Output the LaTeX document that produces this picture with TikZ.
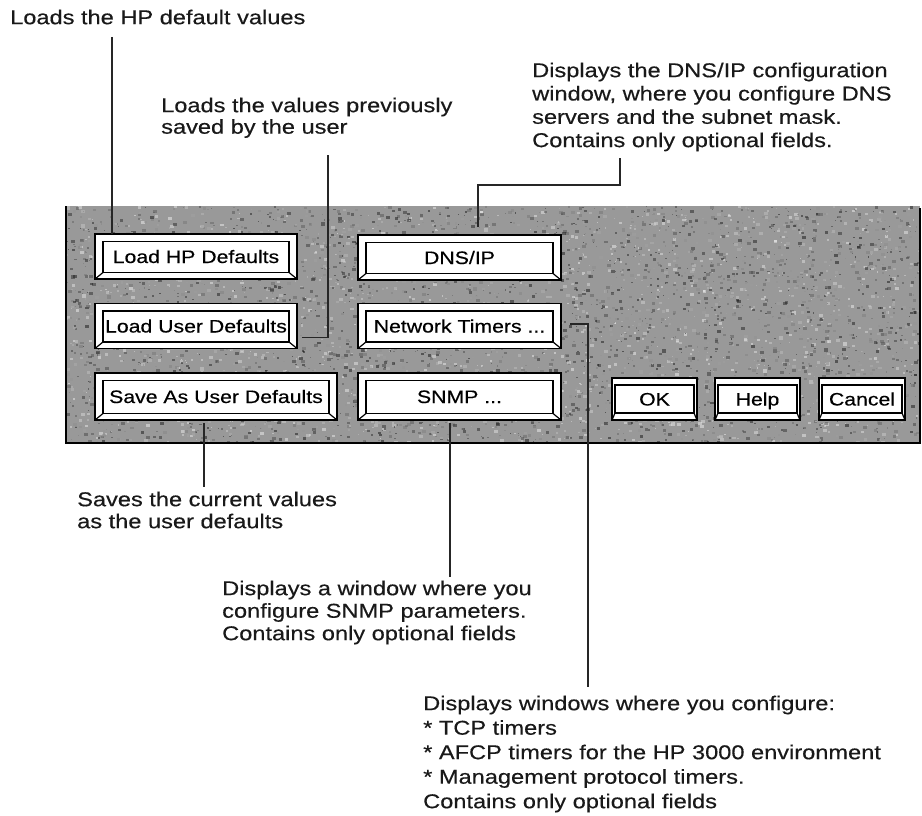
\documentclass[tikz,border=0pt]{standalone}
\usepackage{fontspec}
\setmainfont[FakeStretch=1.18, FakeBold=0.4]{Liberation Sans}
\usetikzlibrary{calc}

\definecolor{panelgray}{gray}{0.6}

% bevelled push button: inner face plus the two lower corner chamfers
\newcommand\bevelbtn[4]{%
  \draw[bevelline] ($(#1.north west)+(#2,#3)$) rectangle ($(#1.south east)+(-#2,-#4)$);
  \draw[bevelline] ($(#1.south west)+(#2,-#4)$) -- (#1.south west);
  \draw[bevelline] ($(#1.south east)+(-#2,-#4)$) -- (#1.south east);
}

\tikzset{
  btn/.style={draw=black, line width=1.8pt, fill=white, inner sep=0pt, outer sep=0pt,
    font=\fontsize{18}{20}\selectfont, text height=13pt, text depth=0pt},
  bevelline/.style={draw=black, line width=1.2pt},
  note/.style={anchor=north west, inner sep=0pt, align=left, text=black!90},
  lead/.style={draw=black!85, line width=1.1pt},
}

\begin{document}
\begin{tikzpicture}[x=1pt, y=-1pt]
\useasboundingbox (0,0) rectangle (922,816);

% ---- dialog panel with grainy grey surface ----
\begin{scope}
  \clip (66,206) rectangle (920,443);
  \fill[panelgray] (66,206) rectangle (920,443);
  \pgfmathsetseed{17}
  \foreach \i in {1,...,5200}{
    \pgfmathsetmacro\px{66+854*rnd}
    \pgfmathsetmacro\py{206+237*rnd}
    \pgfmathsetmacro\ps{1+3*rnd}
    \pgfmathtruncatemacro\pc{100*rnd}
    \fill[white!\pc!black, opacity=0.45] (\px,\py) rectangle ++(\ps,0.8*\ps);
  }
\end{scope}
\draw[line width=1.8pt] (66,206) -- (66,443) -- (920,443) -- (920,208);

% ---- buttons ----
\node[btn, minimum width=202, minimum height=45] (hp)   at (196,256.5) {Load HP Defaults};
\node[btn, minimum width=202, minimum height=45] (usr)  at (196,326)   {Load User Defaults};
\node[btn, minimum width=242, minimum height=47] (save) at (216,396.5) {Save As User Defaults};
\node[btn, minimum width=203, minimum height=45] (dns)  at (459.5,257.5) {DNS/IP};
\node[btn, minimum width=203, minimum height=45] (net)  at (459.5,326)   {Network Timers ...};
\node[btn, minimum width=203, minimum height=47] (snmp) at (459.5,396.5) {SNMP ...};
\node[btn, minimum width=85, minimum height=42] (ok)     at (654.5,399) {OK};
\node[btn, minimum width=85, minimum height=42] (help)   at (757.5,399) {Help};
\node[btn, minimum width=86, minimum height=42] (cancel) at (862,399)   {Cancel};

\bevelbtn{hp}{8}{7.5}{6.5}
\bevelbtn{usr}{8}{7.5}{6.5}
\bevelbtn{save}{8}{7.5}{6.5}
\bevelbtn{dns}{8}{7.5}{6.5}
\bevelbtn{net}{8}{7.5}{6.5}
\bevelbtn{snmp}{8}{7.5}{6.5}
\bevelbtn{ok}{3}{7}{7}
\bevelbtn{help}{3}{7}{7}
\bevelbtn{cancel}{3}{7}{7}

% ---- explanatory notes ----
\node[note, font=\fontsize{20}{23}\selectfont] (tHP) at (10,9.5) {Loads the HP default values};
\node[note, font=\fontsize{20}{21.5}\selectfont] (tUsr) at (161,97.5)
  {Loads the values previously\\saved by the user};
\node[note, font=\fontsize{20}{23.3}\selectfont] (tDns) at (532,62.5)
  {Displays the DNS/IP configuration\\window, where you configure DNS\\servers and the subnet mask.\\Contains only optional fields.};
\node[note, font=\fontsize{20}{22}\selectfont] (tSave) at (77,491.5)
  {Saves the current values\\as the user defaults};
\node[note, font=\fontsize{20}{22.5}\selectfont] (tSnmp) at (222,580.5)
  {Displays a window where you\\configure SNMP parameters.\\Contains only optional fields};
\node[note, font=\fontsize{20}{24.5}\selectfont] (tNet) at (423,695.5)
  {Displays windows where you configure:\\* TCP timers\\* AFCP timers for the HP 3000 environment\\* Management protocol timers.\\Contains only optional fields};

% ---- leader lines ----
\coordinate (eHP)   at (112,37);
\coordinate (eUsr)  at (328,155);
\coordinate (eDns)  at (620,158);
\coordinate (eNet)  at (588,687);
\coordinate (eSnmp) at (450,577);
\coordinate (eSave) at (204,487);

\draw[lead] (eHP) -- (eHP |- hp.north);
\draw[lead] (eUsr) |- ($(usr.south east)+(5,-11)$);
\draw[lead] (eDns) -- ++(0,27) -| ($(dns.north)+(18.5,-8)$);
\draw[lead] ($(net.east)+(9,-2)$) -| (eNet);
\draw[lead] ($(snmp.south)+(-9.5,3)$) -- (eSnmp);
\draw[lead] ($(save.south)+(-12,3)$) -- (eSave);
\end{tikzpicture}
\end{document}
